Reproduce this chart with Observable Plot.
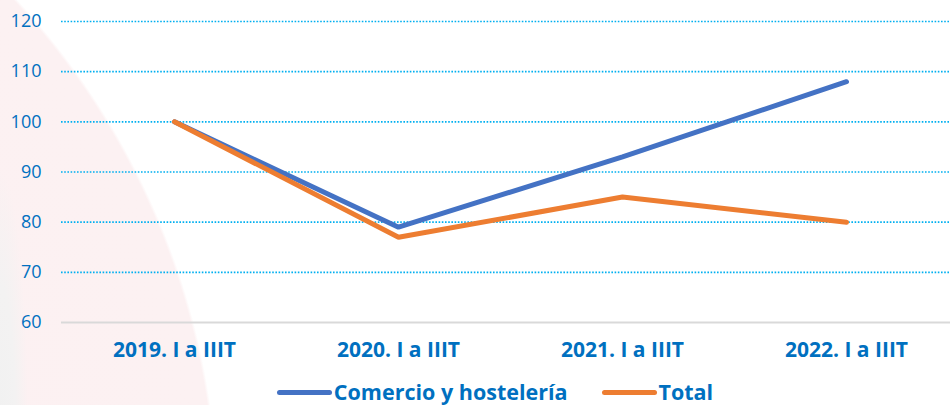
<!DOCTYPE html>
<html>
<head>
<meta charset="utf-8">
<script src="https://cdn.jsdelivr.net/npm/d3@7"></script>
<script src="https://cdn.jsdelivr.net/npm/@observablehq/plot@0.6"></script>
<style>
  html, body { margin: 0; padding: 0; }
  body {
    width: 950px; height: 405px; overflow: hidden;
    font-family: "Open Sans", "Noto Sans", sans-serif;
    background:
      radial-gradient(ellipse 28px 260px at 0px 430px, #f1f1f1 0%, #f3f2f2 55%, rgba(243,242,242,0) 100%),
      radial-gradient(circle 754px at -536px 512px, #fcf0f1 0%, #fcf1f2 99.6%, #ffffff 100%);
  }
  #legend {
    display: flex; justify-content: center; align-items: center;
    gap: 34px; margin-top: 0px; padding-left: 40px;
    font-weight: 700; font-size: 21.5px; color: #0070C0; line-height: 28px;
  }
  .item { display: flex; align-items: center; }
  .sw { width: 55px; height: 5px; border-radius: 3px; margin-right: 2px; }
</style>
</head>
<body>
<div id="chart"></div>
<div id="legend"></div>
<script>
const periods = ["2019. I a IIIT", "2020. I a IIIT", "2021. I a IIIT", "2022. I a IIIT"];
const comercio = [100, 79, 93, 108];
const total = [100, 77, 85, 80];
const seriesNames = ["Comercio y hostelería", "Total"];
const seriesColors = ["#4472C4", "#ED7D31"];
const yTicks = [60, 70, 80, 90, 100, 110, 120];

const data = [
  ...periods.map((p, i) => ({period: p, value: comercio[i], series: seriesNames[0]})),
  ...periods.map((p, i) => ({period: p, value: total[i], series: seriesNames[1]}))
];

const textColor = "#0070C0";

const chart = Plot.plot({
  width: 950,
  height: 378,
  marginTop: 21,
  marginBottom: 56,
  marginLeft: 61,
  marginRight: -8,
  style: {background: "transparent", fontFamily: "'Open Sans', 'Noto Sans', sans-serif", color: textColor},
  x: {type: "band", domain: periods, padding: 0, label: null},
  y: {domain: [60, 120], ticks: yTicks, label: null},
  color: {domain: seriesNames, range: seriesColors},
  marks: [
    Plot.ruleY(yTicks.filter(d => d > 60), {stroke: "#00B0F0", strokeWidth: 1.6, strokeDasharray: "1.6,1.6"}),
    Plot.ruleY([60], {stroke: "#d9d9d9", strokeWidth: 2}),
    Plot.axisY({ticks: yTicks, tickSize: 0, tickPadding: 20, fontSize: 18, fill: textColor, label: null}),
    Plot.axisX({tickSize: 0, tickPadding: 20, fontSize: 21, fontWeight: 700, fill: textColor, label: null}),
    Plot.line(data, {x: "period", y: "value", z: "series", stroke: "series", strokeWidth: 5, strokeLinecap: "round", strokeLinejoin: "miter"})
  ]
});
document.getElementById("chart").appendChild(chart);
chart.querySelectorAll("g[aria-label='x-axis tick label'] text, g[aria-label='x-axis tick label']").forEach(e => e.setAttribute("font-weight", "700"));

const legend = document.getElementById("legend");
seriesNames.forEach((n, i) => {
  const it = document.createElement("div");
  it.className = "item";
  const sw = document.createElement("div");
  sw.className = "sw";
  sw.style.background = seriesColors[i];
  const t = document.createElement("span");
  t.textContent = n;
  it.appendChild(sw); it.appendChild(t);
  legend.appendChild(it);
});
</script>
</body>
</html>
